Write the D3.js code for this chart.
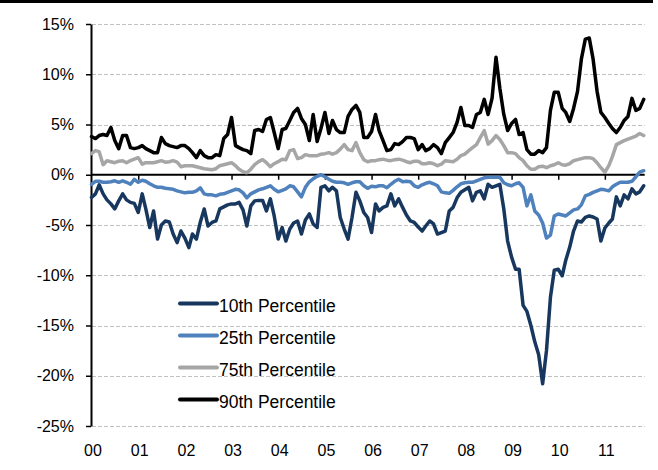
<!DOCTYPE html>
<html>
<head>
    <meta charset="utf-8">
    <title>Percentiles 2000-2011</title>
    <script src="https://cdnjs.cloudflare.com/ajax/libs/d3/7.8.5/d3.min.js"></script>
    <style>
        body { margin: 0; background: #fff; }
        text { font-family: Arial, "Liberation Sans", sans-serif; fill: #000; }
    </style>
</head>
<body>

<div id="chart"></div>

<script type="text/javascript">
    var width = 658,
        height = 470;

    //monthly values in %, Jan 2000 to Nov 2011
    var p10 = [
        -2.25, -1.9, -1.0, -1.9, -2.5, -2.9, -3.4, -2.6, -1.9, -2.5,
        -2.75, -2.85, -3.75, -1.9, -3.4, -5.25, -3.6, -6.4, -5.0, -4.6,
        -4.7, -5.9, -6.75, -5.6, -6.3, -7.25, -5.9, -6.4, -4.75, -3.4,
        -5.1, -4.75, -4.6, -3.4, -3.2, -3.0, -2.9, -2.9, -2.75, -3.5,
        -5.1, -3.1, -2.6, -2.55, -2.55, -3.6, -2.4, -4.1, -6.4, -5.25,
        -6.6, -5.4, -4.8, -4.6, -5.9, -4.5, -3.9, -4.9, -5.25, -1.25,
        -1.1, -1.6, -1.25, -1.6, -4.25, -5.4, -6.4, -4.25, -1.75, -2.6,
        -3.75, -4.25, -5.75, -2.9, -3.6, -3.25, -3.1, -1.9, -3.1, -2.4,
        -3.25, -4.0, -4.6, -4.75, -5.2, -5.6, -5.1, -4.6, -4.9, -5.9,
        -5.75, -5.6, -3.6, -3.25, -2.3, -1.75, -1.5, -1.25, -2.6, -1.75,
        -1.6, -2.4, -0.95, -1.25, -1.1, -0.95, -3.4, -6.6, -8.2, -9.4,
        -9.4, -13.0, -13.6, -15.0, -16.6, -17.9, -20.8, -17.5, -12.2, -9.5,
        -9.4, -10.05, -8.5, -7.2, -5.6, -4.6, -4.7, -4.25, -4.1, -4.2,
        -4.4, -6.6, -5.3, -4.8, -4.4, -2.2, -3.1, -2.0, -2.4, -1.4,
        -1.9, -1.7, -1.1];

    var p25 = [
        -0.95, -0.65, -0.65, -0.75, -0.75, -0.7, -0.6, -0.75, -0.6, -0.75,
        -0.95, -0.45, -0.75, -0.55, -0.65, -0.9, -1.1, -1.25, -1.25, -1.35,
        -1.4, -1.45, -1.6, -1.7, -1.8, -1.75, -1.75, -1.6, -1.3, -1.9,
        -2.0, -2.0, -2.1, -1.95, -1.9, -1.75, -1.6, -1.45, -1.5, -1.8,
        -2.3, -1.9, -1.7, -1.5, -1.4, -1.25, -1.1, -1.45, -1.7, -1.55,
        -1.4, -1.1, -1.2, -1.7, -2.2, -1.25, -0.7, -0.4, -0.15, 0.0,
        -0.2, -0.45, -0.65, -0.75, -0.75, -0.8, -0.95, -0.8, -0.7, -0.7,
        -1.1, -1.35, -1.15, -1.2, -1.1, -1.1, -1.3, -0.95, -0.65, -0.45,
        -0.7, -0.65, -0.7, -1.1, -1.25, -1.0, -0.85, -0.75, -0.9, -1.1,
        -1.7, -1.8, -1.85, -1.55, -1.2, -0.9, -0.8, -0.75, -0.75, -0.6,
        -0.45, -0.3, -0.25, -0.25, -0.25, -0.25, -0.8, -1.0, -1.1, -0.9,
        -0.8, -1.25, -3.1, -2.0, -3.6, -4.0, -4.8, -6.3, -6.0, -4.1,
        -3.9, -4.0, -4.1, -3.8, -3.5, -3.4, -3.0, -2.1, -1.95, -1.75,
        -1.6, -1.45, -1.5, -1.6, -1.2, -0.95, -0.75, -0.75, -0.75, -0.65,
        -0.2, 0.25, 0.4];

    var p75 = [
        2.1, 2.4, 2.3, 1.0, 1.4, 1.3, 1.2, 1.35, 1.4, 1.2,
        1.4, 1.55, 1.7, 1.05, 1.2, 1.2, 1.2, 1.3, 1.4, 1.25,
        1.3, 1.4, 1.25, 0.8, 0.9, 0.9, 0.9, 0.8, 0.7, 0.6,
        0.55, 0.5, 0.6, 0.9, 1.0, 1.1, 1.2, 0.9, 0.55, 0.3,
        0.2, 0.55, 1.0, 1.3, 1.5, 1.2, 0.8, 1.1, 1.3, 1.55,
        1.5, 2.4, 2.5, 1.6, 1.7, 2.0, 1.9, 1.9, 1.9, 2.05,
        2.1, 2.2, 2.05, 2.2, 2.55, 3.0, 2.5, 2.4, 3.2, 2.2,
        1.5, 1.3, 1.4, 1.4, 1.5, 1.55, 1.45, 1.4, 1.5, 1.55,
        1.45, 1.3, 1.2, 1.35, 1.35, 1.1, 1.1, 1.2, 1.1, 0.9,
        1.05, 1.4, 1.35, 1.3, 1.55, 1.9, 2.05, 2.4, 2.7, 3.0,
        3.7, 4.4, 3.05, 3.4, 3.9, 3.5, 2.9, 2.2, 2.2, 2.1,
        1.7, 1.4, 0.9, 0.55, 0.55, 0.8, 0.85, 0.7, 0.9, 1.0,
        1.2, 1.0, 0.95, 1.1, 1.4, 1.5, 1.6, 1.7, 1.7, 1.6,
        1.2, 0.7, 0.25, 0.9, 1.8, 3.0, 3.2, 3.4, 3.55, 3.7,
        3.85, 4.1, 3.9];

    var p90 = [
        3.8, 3.6, 3.9, 4.0, 3.9, 4.7, 3.4, 2.6, 3.9, 3.9,
        2.7, 2.6, 2.7, 2.9, 2.6, 2.4, 2.2, 2.2, 3.7, 3.1,
        2.9, 2.8, 2.7, 2.9, 2.9, 2.6, 2.2, 1.7, 2.4, 1.9,
        1.7, 1.7, 2.0, 1.9, 3.6, 4.0, 5.7, 2.9, 2.7, 2.5,
        2.4, 2.1, 4.4, 4.5, 4.3, 5.5, 5.7, 4.2, 2.6, 4.5,
        4.6, 5.4, 6.2, 6.6, 5.6, 5.0, 3.4, 6.0, 3.3, 4.6,
        6.2, 4.1, 5.4, 4.5, 4.2, 4.2, 5.8, 6.5, 6.9, 6.2,
        3.7, 3.7, 4.3, 6.0, 4.4, 3.4, 2.4, 2.5, 3.1, 3.0,
        3.3, 3.7, 3.7, 3.6, 2.5, 3.0, 2.4, 2.6, 3.0, 2.7,
        2.1, 3.2, 3.7, 4.2, 5.2, 6.7, 4.9, 4.9, 4.7, 6.0,
        6.2, 7.5, 6.0, 7.6, 11.7, 8.6, 6.0, 4.4, 5.1, 5.5,
        4.0, 4.2, 2.5, 2.05, 2.05, 2.4, 2.2, 2.7, 6.4, 8.2,
        8.2, 6.6, 6.2, 5.3, 6.6, 8.3, 11.5, 13.5, 13.6, 11.5,
        8.3, 6.2, 5.7, 5.1, 4.6, 4.2, 4.7, 5.4, 5.8, 7.6,
        6.4, 6.6, 7.5];

    var seriesNames = ["10th Percentile", "25th Percentile", "75th Percentile", "90th Percentile"];
    var seriesColors = ["#17375e", "#4f81bd", "#a6a6a6", "#000000"];
    var yTicks = [15, 10, 5, 0, -5, -10, -15, -20, -25];
    var yearLabels = ["00", "01", "02", "03", "04", "05", "06", "07", "08", "09", "10", "11"];

    var series = [p10, p25, p75, p90];
    var months = p10.map(function(d, i) { return new Date(2000, i, 1); });
    var years = yearLabels.map(function(d, i) { return new Date(2000 + i, 0, 1); });

    var svg = d3.select("#chart").append("svg")
        .attr("width", width)
        .attr("height", height);

    var x = d3.scaleTime()
        .domain([new Date(2000, 0, 1), new Date(2012, 0, 1)])
        .range([91.5, 651.5]);

    var y = d3.scaleLinear()
        .domain([-25, 15])
        .range([426, 24]);

    var plotRight = x(months[months.length - 1]) + 1;

    //rule across the top of the page
    svg.append("rect")
        .attr("x", 0).attr("y", 0)
        .attr("width", 653).attr("height", 3)
        .attr("fill", "#000");

    ////////////////////////////////////////////////////////////
    ///////////////////////// Grid /////////////////////////////
    ////////////////////////////////////////////////////////////

    svg.append("g").selectAll("line")
        .data(yTicks.filter(function(d) { return d !== 0; }))
        .enter().append("line")
        .attr("x1", 92).attr("x2", plotRight)
        .attr("y1", function(d) { return Math.round(y(d)) + 0.5; })
        .attr("y2", function(d) { return Math.round(y(d)) + 0.5; })
        .attr("stroke", "#c0c0c0")
        .attr("stroke-width", 1)
        .attr("stroke-dasharray", "4,2");

    //y axis
    var yAxis = svg.append("g")
        .attr("transform", "translate(91,0)")
        .call(d3.axisLeft(y)
            .tickValues(yTicks)
            .tickSize(5)
            .tickSizeOuter(0)
            .tickPadding(12)
            .tickFormat(function(d) { return d + "%"; }));
    yAxis.select(".domain").attr("stroke", "#000").attr("stroke-width", 2);
    yAxis.selectAll(".tick line").attr("stroke", "#000").attr("stroke-width", 1.5);
    yAxis.selectAll(".tick text")
        .style("font-size", "16px")
        .style("font-family", "Arial, 'Liberation Sans', sans-serif")
        .attr("fill", "#000");

    //zero line with year ticks below it
    var xAxis = svg.append("g")
        .attr("transform", "translate(0," + y(0) + ")")
        .call(d3.axisBottom(x)
            .tickValues(years.slice(1))
            .tickSize(5)
            .tickSizeOuter(0)
            .tickFormat(""));
    xAxis.select(".domain").remove();
    xAxis.selectAll(".tick line").attr("stroke", "#000").attr("stroke-width", 1.5);
    xAxis.append("line")
        .attr("x1", 91).attr("x2", plotRight)
        .attr("y1", 0).attr("y2", 0)
        .attr("stroke", "#000")
        .attr("stroke-width", 2);

    //year labels at the bottom
    svg.append("g").selectAll("text")
        .data(years)
        .enter().append("text")
        .attr("x", function(d) { return x(d) + 1.5; })
        .attr("y", 456)
        .attr("text-anchor", "middle")
        .style("font-size", "16px")
        .text(function(d, i) { return yearLabels[i]; });

    ////////////////////////////////////////////////////////////
    //////////////////////// Lines /////////////////////////////
    ////////////////////////////////////////////////////////////

    var line = d3.line()
        .x(function(d, i) { return x(months[i]); })
        .y(function(d) { return y(d); });

    svg.append("g").selectAll("path")
        .data(series)
        .enter().append("path")
        .attr("d", line)
        .attr("fill", "none")
        .attr("stroke", function(d, i) { return seriesColors[i]; })
        .attr("stroke-width", 3.5)
        .attr("stroke-linejoin", "round")
        .attr("stroke-linecap", "round");

    ////////////////////////////////////////////////////////////
    //////////////////////// Legend ////////////////////////////
    ////////////////////////////////////////////////////////////

    var legend = svg.append("g").selectAll("g")
        .data(seriesNames)
        .enter().append("g")
        .attr("transform", function(d, i) { return "translate(180," + (303.5 + i * 32) + ")"; });

    legend.append("line")
        .attr("x1", 0).attr("x2", 37)
        .attr("y1", 0).attr("y2", 0)
        .attr("stroke", function(d, i) { return seriesColors[i]; })
        .attr("stroke-width", 4)
        .attr("stroke-linecap", "round");

    legend.append("text")
        .attr("x", 39)
        .attr("y", 8)
        .style("font-size", "17.5px")
        .text(function(d) { return d; });

</script>
</body>
</html>
